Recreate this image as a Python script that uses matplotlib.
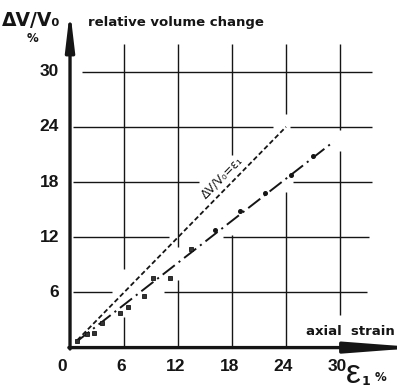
import matplotlib
matplotlib.use("Agg")
from matplotlib import pyplot as plt

plt.rcParams['lines.scale_dashes'] = False

# measured points, axial strain eps1 [%] vs relative volume change dV/V0 [%]
strain_sq = [0.8, 1.9, 2.7, 3.6, 5.5, 6.4, 8.2, 9.2, 11.1, 13.4]
vol_sq = [0.7, 1.5, 1.6, 2.7, 3.8, 4.4, 5.6, 7.6, 7.6, 10.7]
strain_dot = [16.1, 18.9, 21.7, 24.5, 27.0]
vol_dot = [12.8, 14.8, 16.8, 18.8, 20.8]

# fitted line through the measurements and the dV/V0 = eps1 reference
fit_x = [0.8, 29.3]
fit_y = [0.7, 22.4]
ref_x = [0.8, 24.0]
ref_y = [0.8, 24.0]

ticks = [6, 12, 18, 24, 30]
tick_labels = ["6", "12", "18", "24", "30"]

# hand drawn grid, broken where the curves pass
vgrid = [(6, [(33.0, 8.5), (3.3, 0.0)]),
         (12, [(33.0, 10.9), (7.4, 0.0)]),
         (18, [(33.0, 20.9), (12.2, 0.0)]),
         (24, [(33.0, 25.4), (16.9, 0.0)]),
         (30, [(33.0, 23.7), (21.4, 3.5)])]
hgrid = [(30, [(1.3, 33.5)]),
         (24, [(0.3, 22.6), (24.4, 33.5)]),
         (18, [(0.3, 14.3), (24.8, 33.5)]),
         (12, [(0.3, 11.0), (17.0, 33.2)]),
         (6, [(0.3, 4.7), (10.4, 33.0)])]

num_font = ['Liberation Sans', 'DejaVu Sans']
ink = '#151515'

fig = plt.figure(figsize=(3.97, 3.91), dpi=100)
ax = fig.add_axes([0, 0, 1, 1])
ax.set_xlim(-7.78, 36.33)
ax.set_ylim(-4.72, 37.79)
ax.axis('off')

for xv, segs in vgrid:
    for y0, y1 in segs:
        ax.plot([xv, xv], [y0, y1], color=ink, lw=1.0, solid_capstyle='butt')
for yv, segs in hgrid:
    for x0, x1 in segs:
        ax.plot([x0, x1], [yv, yv], color=ink, lw=1.0, solid_capstyle='butt')

# axes with arrow heads
ax.annotate('', xy=(0, 36.7), xytext=(0, -0.15), annotation_clip=False,
            arrowprops=dict(arrowstyle='-|>,head_length=22,head_width=2.6',
                            mutation_scale=1, lw=2.4, color=ink, shrinkA=0, shrinkB=0))
ax.annotate('', xy=(39.0, 0), xytext=(-0.13, 0), annotation_clip=False,
            arrowprops=dict(arrowstyle='-|>,head_length=42,head_width=3.2',
                            mutation_scale=1, lw=2.4, color=ink, shrinkA=0, shrinkB=0))

# curves
ax.plot(ref_x, ref_y, color=ink, lw=1.3, dashes=(3.5, 2.0))
ax.plot(fit_x, fit_y, color=ink, lw=1.4, dashes=(11, 3.5, 1.5, 3.5))
ax.plot(strain_sq, vol_sq, 's', color=ink, ms=3.4, mfc='#333333', mew=0.6)
ax.plot(strain_dot, vol_dot, 'o', color=ink, ms=2.6)

ax.text(17.4, 18.0, "ΔV/V₀=ε₁", rotation=45, transform_rotates_text=True,
        rotation_mode='anchor', ha='center', va='bottom', fontsize=8.5, color=ink)

# tick labels
for t, lab in zip(ticks, tick_labels):
    ax.text(t - 0.3, -2.1, lab, ha='center', va='center', fontsize=12.5,
            fontweight='bold', family=num_font, color=ink)
    ax.text(-1.2, t, lab, ha='right', va='center', fontsize=12.5,
            fontweight='bold', family=num_font, color=ink)
ax.text(-0.9, -2.1, "0", ha='center', va='center', fontsize=12.5,
        fontweight='bold', family=num_font, color=ink)

# axis titles
ax.text(-7.6, 35.6, "ΔV/V₀", ha='left', va='center', fontsize=13.5,
        fontweight='bold', color=ink)
ax.text(-4.2, 33.6, "%", ha='center', va='center', fontsize=8.5,
        fontweight='bold', color=ink)
ax.text(2.0, 35.3, "relative volume change", ha='left', va='center',
        fontsize=9.5, fontweight='bold', color=ink)
ax.text(26.2, 1.7, "axial  strain", ha='left', va='center', fontsize=9.5,
        fontweight='bold', color=ink)
ax.text(30.6, -2.9, "ε", ha='left', va='center', fontsize=24,
        family=num_font, color=ink)
ax.text(32.4, -3.7, "1", ha='left', va='center', fontsize=9,
        fontweight='bold', color=ink)
ax.text(33.8, -3.2, "%", ha='left', va='center', fontsize=8.5,
        fontweight='bold', color=ink)

fig.savefig("out.png", dpi=100, facecolor='white')
